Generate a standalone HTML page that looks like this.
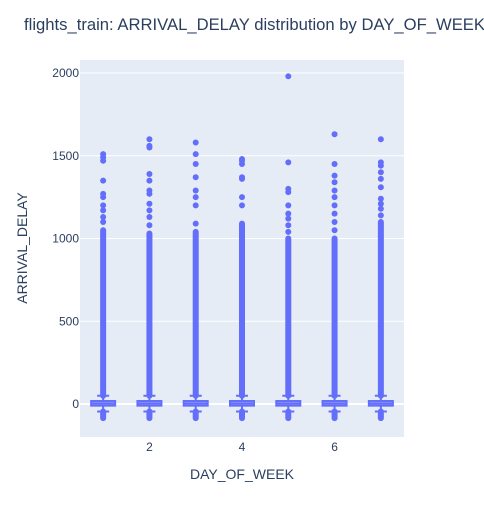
<!DOCTYPE html>
<html><head><meta charset="utf-8"><style>
body{margin:0;background:#fff;}
svg text{font-family:"Liberation Sans",sans-serif;fill:#2a3f5f;}
</style></head><body>
<svg id="chart" width="484" height="518">
<text x="24" y="30" font-size="17" textLength="461" lengthAdjust="spacingAndGlyphs">flights_train: ARRIVAL_DELAY distribution by DAY_OF_WEEK</text>
<rect x="80" y="60" width="324" height="377" fill="#e5ecf6"/>
<g id="grid"></g><g id="marks"></g><g id="ticks"></g>
<text x="242" y="479" font-size="14" text-anchor="middle">DAY_OF_WEEK</text>
<text transform="translate(27,248) rotate(-90)" font-size="14" text-anchor="middle">ARRIVAL_DELAY</text>
</svg>
<script>
const days=[1,2,3,4,5,6,7];
const q1=[-10,-10,-10,-10,-10,-10,-10];
const median=[3,3,3,3,3,3,3];
const q3=[18,18,18,18,18,18,18];
const lowerFence=[-45,-45,-45,-45,-45,-45,-45];
const upperFence=[50,50,50,50,50,50,50];
const denseTop=[1050,1030,1040,1090,1000,1000,1100];
const denseBottom=[-85,-85,-85,-85,-85,-85,-85];
const sparse=[
[1100,1130,1170,1200,1250,1270,1350,1470,1490,1510],
[1080,1130,1170,1210,1270,1290,1350,1390,1550,1560,1600],
[1090,1200,1250,1290,1370,1450,1510,1580],
[1200,1250,1360,1370,1450,1470,1480],
[1040,1080,1120,1150,1200,1280,1300,1460,1980],
[1050,1100,1150,1200,1250,1290,1340,1380,1450,1630],
[1140,1180,1210,1240,1310,1360,1400,1440,1460,1600]];
const yTicks=[0,500,1000,1500,2000];
const xTicks=[2,4,6];
const NS='http://www.w3.org/2000/svg';
const X=v=>80+(v-0.5)*(324/7);
const Y=v=>404-v*0.1655;
function mk(p,t,a){const e=document.createElementNS(NS,t);for(const k in a)e.setAttribute(k,a[k]);p.appendChild(e);return e;}
const grid=document.getElementById('grid'),marks=document.getElementById('marks'),ticks=document.getElementById('ticks');
yTicks.forEach(v=>{
 const l=mk(grid,'line',{x1:80,x2:404,y1:Y(v),y2:Y(v),stroke:'#fff','stroke-width':v===0?2:1});
 
 
 const t=mk(ticks,'text',{x:79,y:Y(v)+4,'font-size':12,'text-anchor':'end'});
 t.textContent=v;
 
 
});
xTicks.forEach(v=>{
 const t=mk(ticks,'text',{x:X(v),y:451,'font-size':12,'text-anchor':'middle'});
 t.textContent=v;
 
 
});
days.forEach((d,i)=>{
 const cx=X(d);
 const g=mk(marks,'g',{});
 
 
 const col=mk(g,'line',{x1:cx,x2:cx,y1:Y(denseTop[i]),y2:Y(upperFence[i]),stroke:'#636efa','stroke-width':6,'stroke-linecap':'round'});
 
 
 const col2=mk(g,'line',{x1:cx,x2:cx,y1:Y(lowerFence[i]),y2:Y(denseBottom[i]),stroke:'#636efa','stroke-width':6,'stroke-linecap':'round'});
 
 
 sparse[i].forEach(v=>{
  const c=mk(g,'circle',{cx:cx,cy:Y(v),r:3,fill:'#636efa'});
  
  
 });
 const w=mk(g,'path',{d:`M${cx},${Y(upperFence[i])}V${Y(q3[i])}M${cx},${Y(q1[i])}V${Y(lowerFence[i])}M${cx-6},${Y(upperFence[i])}H${cx+6}M${cx-6},${Y(lowerFence[i])}H${cx+6}`,stroke:'#636efa','stroke-width':2,fill:'none'});
 
 
 const b=mk(g,'rect',{x:cx-12,y:Y(q3[i]),width:24,height:Y(q1[i])-Y(q3[i]),fill:'rgba(99,110,250,0.5)',stroke:'#636efa','stroke-width':2});
 
 
 const m=mk(g,'line',{x1:cx-12,x2:cx+12,y1:Y(median[i]),y2:Y(median[i]),stroke:'#636efa','stroke-width':2});
 
 
});
</script>
</body></html>
